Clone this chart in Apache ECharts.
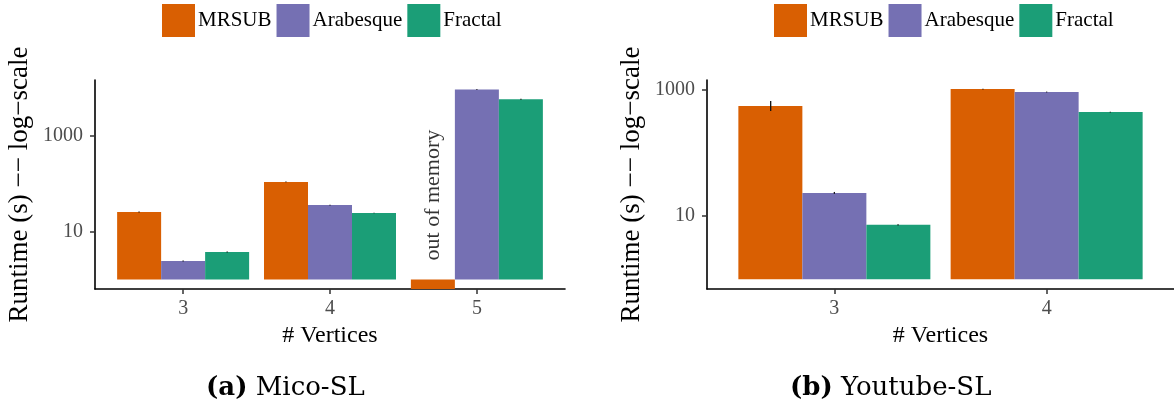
<!DOCTYPE html>
<html><head><meta charset="utf-8">
<script src="https://cdn.jsdelivr.net/npm/echarts@6/dist/echarts.min.js"></script>
<style>html,body{margin:0;padding:0;background:#fff}#c{width:1174px;height:416px}</style>
</head><body><div id="c"></div>
<script>
// ---------- data ----------
const seriesNames = ['MRSUB', 'Arabesque', 'Fractal'];
const colors = ['#D95F02', '#7570B3', '#1B9E77'];

// Panel (a) Mico-SL
const catsA = ['3', '4', '5'];
const mrsubA = [25.3, 107, 0.5];      // 5 vertices: out of memory (bar runs off the axis)
const arabA = [2.42, 35.4, 9000];
const fracA = [3.73, 24.2, 5600];
const mrsubErrA = [[24.7, 25.9], [105, 109], null];
const arabErrA = [[2.36, 2.48], [34.8, 36.0], [8850, 9150]];
const fracErrA = [[3.65, 3.81], [23.8, 24.6], [5480, 5720]];
const oomCat = ['5'];
const oomY = [57];
const oomText = ['out of memory'];

// Panel (b) Youtube-SL
const catsB = ['3', '4'];
const mrsubB = [545, 1009];
const arabB = [23.1, 906];
const fracB = [7.23, 438];
const mrsubErrB = [[454, 653], [995, 1022]];
const arabErrB = [[22.3, 23.9], [893, 919]];
const fracErrB = [[7.05, 7.4], [432, 444]];

const yTicks = [10, 1000];
const captionA = ['(a)', 'Mico-SL'];
const captionB = ['(b)', 'Youtube-SL'];
const yTitle = 'Runtime (s) \u2212\u2212 log\u2212scale';
const xTitle = '# Vertices';

// ---------- build ----------
const SERIF = '"Liberation Serif", "DejaVu Serif", serif';
const CAPF = '"DejaVu Serif", "Liberation Serif", serif';
const BW = 0.3; // bar width in category units

function barSeries(gridIdx, vals, k, widthPx) {
  return {
    type: 'bar', name: seriesNames[k], xAxisIndex: gridIdx, yAxisIndex: gridIdx,
    data: vals.map((v, i) => [i + 1, v]),
    barWidth: widthPx, barGap: '0%', clip: true,
    itemStyle: { color: colors[k] }, silent: true
  };
}
function errSeries(gridIdx, errs, k) {
  const data = [];
  errs.forEach((e, i) => { if (e) data.push([i + 1 + (k - 1) * BW, e[0], e[1]]); });
  return {
    type: 'custom', xAxisIndex: gridIdx, yAxisIndex: gridIdx, data: data,
    encode: { x: 0, y: [1, 2] }, silent: true, z: 5,
    renderItem: function (params, api) {
      const p1 = api.coord([api.value(0), api.value(1)]);
      const p2 = api.coord([api.value(0), api.value(2)]);
      return { type: 'line', shape: { x1: p1[0], y1: p1[1], x2: p2[0], y2: p2[1] },
        style: { stroke: '#111', lineWidth: 1.3 } };
    }
  };
}
function xAxis(gridIdx, cats) {
  const ticks = cats.map((c, i) => i + 1);
  return {
    type: 'value', gridIndex: gridIdx, min: 0.4, max: cats.length + 0.6,
    name: xTitle, nameLocation: 'middle', nameGap: 33,
    nameTextStyle: { fontFamily: SERIF, fontSize: 24, color: '#000' },
    axisLine: { show: true, onZero: false, lineStyle: { color: '#000', width: 1.6 } },
    axisTick: { show: true, length: 5, customValues: ticks, lineStyle: { color: '#333', width: 1.5 } },
    axisLabel: { customValues: ticks, margin: 10, fontFamily: SERIF, fontSize: 20, color: '#4d4d4d',
      formatter: v => cats[Math.round(v) - 1] },
    splitLine: { show: false }
  };
}
function yAxis(gridIdx, min, max) {
  return {
    type: 'log', logBase: 10, gridIndex: gridIdx, min: min, max: max,
    name: yTitle, nameLocation: 'middle', nameGap: 62, nameRotate: 90,
    nameTextStyle: { fontFamily: SERIF, fontSize: 27, color: '#000' },
    axisLine: { show: true, onZero: false, lineStyle: { color: '#000', width: 1.6 } },
    axisTick: { show: true, length: 5, customValues: yTicks, lineStyle: { color: '#333', width: 1.5 } },
    axisLabel: { customValues: yTicks, margin: 12, fontFamily: SERIF, fontSize: 20, color: '#4d4d4d',
      formatter: v => String(Math.round(v)) },
    splitLine: { show: false }, minorTick: { show: false }
  };
}
function legend(left) {
  return {
    left: left, top: 4, orient: 'horizontal', icon: 'rect', itemWidth: 33, itemHeight: 33,
    itemGap: 5, padding: 0, data: seriesNames, selectedMode: false,
    textStyle: { fontFamily: SERIF, fontSize: 21, color: '#000', padding: [0, 0, 0, -2] }
  };
}
function caption(left, parts) {
  return {
    left: left, top: 375, padding: 0,
    text: '{b|' + parts[0] + '} {n|' + parts[1] + '}',
    textStyle: { fontFamily: CAPF, fontSize: 26, fontWeight: 'normal', color: '#000', rich: {
      b: { fontFamily: CAPF, fontSize: 26, fontWeight: 'bold', color: '#000' },
      n: { fontFamily: CAPF, fontSize: 26, fontWeight: 'normal', color: '#000' } } }
  };
}

const series = [
  barSeries(0, mrsubA, 0, 44), barSeries(0, arabA, 1, 44), barSeries(0, fracA, 2, 44),
  barSeries(1, mrsubB, 0, 64), barSeries(1, arabB, 1, 64), barSeries(1, fracB, 2, 64),
  errSeries(0, mrsubErrA, 0), errSeries(0, arabErrA, 1), errSeries(0, fracErrA, 2),
  errSeries(1, mrsubErrB, 0), errSeries(1, arabErrB, 1), errSeries(1, fracErrB, 2),
  {
    type: 'scatter', xAxisIndex: 0, yAxisIndex: 0, symbolSize: 0, silent: true,
    data: oomCat.map((c, i) => ({ value: [catsA.indexOf(c) + 1 - BW, oomY[i]], text: oomText[i] })),
    label: { show: true, position: 'inside', rotate: 90, fontFamily: SERIF, fontSize: 22, color: '#000',
      formatter: p => p.data.text }
  }
];

const chart = echarts.init(document.getElementById('c'), null, { renderer: 'canvas' });
chart.setOption({
  animation: false,
  backgroundColor: '#fff',
  title: [caption(206, captionA), caption(790, captionB)],
  legend: [legend(162), legend(774)],
  grid: [
    { left: 95, width: 470, top: 80, height: 209, containLabel: false },
    { left: 707, width: 470, top: 80, height: 209, containLabel: false }
  ],
  xAxis: [xAxis(0, catsA), xAxis(1, catsB)],
  yAxis: [yAxis(0, 0.634, 14125), yAxis(1, 0.70, 1403)],
  series: series
});
</script></body></html>
